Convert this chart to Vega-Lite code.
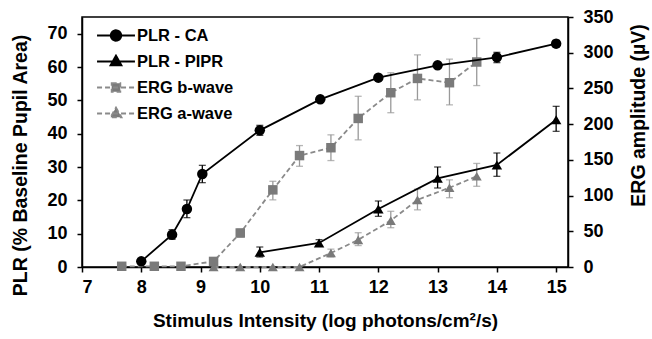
{
  "$schema": "https://vega.github.io/schema/vega-lite/v6.json",
  "width": 486,
  "height": 250,
  "autosize": {"type": "none"},
  "padding": {"left": 82, "top": 17, "right": 84, "bottom": 72},
  "background": "white",
  "config": {
    "view": {"stroke": "#000", "strokeWidth": 1.5},
    "font": "Liberation Sans",
    "axis": {
      "grid": false,
      "labelOverlap": false,
      "labelFont": "Liberation Sans",
      "labelFontWeight": "bold",
      "labelFontSize": 18,
      "labelColor": "#000",
      "titleFont": "Liberation Sans",
      "titleFontWeight": "bold",
      "titleFontSize": 19.5,
      "titleColor": "#000",
      "domainColor": "#000",
      "domainWidth": 1.5,
      "tickColor": "#000",
      "tickWidth": 1.5,
      "tickSize": 5
    },
    "legend": {
      "labelFont": "Liberation Sans",
      "labelFontWeight": "bold",
      "labelFontSize": 16.5,
      "labelColor": "#000",
      "symbolStrokeWidth": 1.8,
      "padding": 0,
      "rowPadding": 0
    }
  },
  "datasets": {
    "pts": [
      {"series": "PLR - CA", "x": 8.0, "y": 1.7},
      {"series": "PLR - CA", "x": 8.52, "y": 9.7, "lo": 8.3, "hi": 11.2},
      {"series": "PLR - CA", "x": 8.77, "y": 17.4, "lo": 14.8, "hi": 20.1},
      {"series": "PLR - CA", "x": 9.03, "y": 27.9, "lo": 25.3, "hi": 30.5},
      {"series": "PLR - CA", "x": 10.0, "y": 41.0, "lo": 39.5, "hi": 42.5},
      {"series": "PLR - CA", "x": 11.02, "y": 50.3, "lo": 49.5, "hi": 51.2},
      {"series": "PLR - CA", "x": 12.0, "y": 56.8, "lo": 56.0, "hi": 57.6},
      {"series": "PLR - CA", "x": 13.0, "y": 60.5, "lo": 59.6, "hi": 61.4},
      {"series": "PLR - CA", "x": 14.0, "y": 62.9, "lo": 61.3, "hi": 64.4},
      {"series": "PLR - CA", "x": 15.0, "y": 67.0, "lo": 66.0, "hi": 68.0},
      {"series": "PLR - PIPR", "x": 10.0, "y": 4.4, "lo": 3.0, "hi": 6.0},
      {"series": "PLR - PIPR", "x": 11.0, "y": 7.2, "lo": 6.3, "hi": 8.2},
      {"series": "PLR - PIPR", "x": 12.0, "y": 17.4, "lo": 15.2, "hi": 19.8},
      {"series": "PLR - PIPR", "x": 13.0, "y": 26.6, "lo": 23.7, "hi": 30.0},
      {"series": "PLR - PIPR", "x": 14.0, "y": 30.6, "lo": 27.2, "hi": 34.2},
      {"series": "PLR - PIPR", "x": 15.0, "y": 44.2, "lo": 40.7, "hi": 48.2},
      {"series": "ERG b-wave", "x": 7.67, "y": 1},
      {"series": "ERG b-wave", "x": 8.22, "y": 1},
      {"series": "ERG b-wave", "x": 8.67, "y": 1},
      {"series": "ERG b-wave", "x": 9.22, "y": 7.8},
      {"series": "ERG b-wave", "x": 9.67, "y": 47.6, "lo": 42, "hi": 53},
      {"series": "ERG b-wave", "x": 10.22, "y": 108, "lo": 94, "hi": 120},
      {"series": "ERG b-wave", "x": 10.67, "y": 156, "lo": 141, "hi": 170},
      {"series": "ERG b-wave", "x": 11.2, "y": 167, "lo": 149, "hi": 185},
      {"series": "ERG b-wave", "x": 11.66, "y": 208, "lo": 178, "hi": 239},
      {"series": "ERG b-wave", "x": 12.21, "y": 244, "lo": 216, "hi": 272},
      {"series": "ERG b-wave", "x": 12.66, "y": 264, "lo": 234, "hi": 297},
      {"series": "ERG b-wave", "x": 13.2, "y": 258, "lo": 227, "hi": 291},
      {"series": "ERG b-wave", "x": 13.66, "y": 287, "lo": 254, "hi": 320},
      {"series": "ERG a-wave", "x": 9.22, "y": 0},
      {"series": "ERG a-wave", "x": 9.67, "y": 0},
      {"series": "ERG a-wave", "x": 10.22, "y": 0},
      {"series": "ERG a-wave", "x": 10.67, "y": 0},
      {"series": "ERG a-wave", "x": 11.2, "y": 19.6, "lo": 14, "hi": 25},
      {"series": "ERG a-wave", "x": 11.66, "y": 38, "lo": 30, "hi": 48},
      {"series": "ERG a-wave", "x": 12.21, "y": 65, "lo": 55, "hi": 78},
      {"series": "ERG a-wave", "x": 12.66, "y": 94, "lo": 80, "hi": 109},
      {"series": "ERG a-wave", "x": 13.2, "y": 111, "lo": 97, "hi": 122},
      {"series": "ERG a-wave", "x": 13.66, "y": 127, "lo": 113, "hi": 145}
    ]
  },
  "data": {"name": "pts"},
  "encoding": {
    "x": {
      "field": "x",
      "type": "quantitative",
      "scale": {"domain": [7, 15.2], "nice": false, "zero": false},
      "axis": {
        "values": [7, 8, 9, 10, 11, 12, 13, 14, 15],
        "format": "d",
        "labelPadding": 6,
        "titlePadding": 15,
        "titleFontSize": 19,
        "title": "Stimulus Intensity (log photons/cm²/s)"
      }
    }
  },
  "layer": [
    {
      "transform": [{"filter": {"field": "series", "oneOf": ["ERG b-wave", "ERG a-wave"]}}],
      "encoding": {
        "y": {"field": "y", "type": "quantitative", "scale": {"domain": [0, 350], "nice": false}, "title": "ERG amplitude (µV)",
          "axis": {"orient": "right", "values": [0, 50, 100, 150, 200, 250, 300, 350], "tickCount": 8, "labelPadding": 10, "titlePadding": 35, "titleAngle": 270, "titleY": 98, "title": "ERG amplitude (µV)"}}
      },
      "layer": [
        {
          "transform": [{"filter": "isValid(datum.hi)"}],
          "mark": {"type": "errorbar", "ticks": {"size": 7}, "color": "#999999", "thickness": 1.3},
          "encoding": {
            "y": {"field": "lo", "type": "quantitative", "scale": {"domain": [0, 350], "nice": false}, "title": "ERG amplitude (µV)",
              "axis": {"orient": "right", "values": [0, 50, 100, 150, 200, 250, 300, 350], "tickCount": 8, "labelPadding": 10, "titlePadding": 35, "titleAngle": 270, "titleY": 98, "title": "ERG amplitude (µV)"}},
            "y2": {"field": "hi"}
          }
        },
        {
          "mark": {"type": "line", "color": "#8a8a8a", "strokeWidth": 1.8, "strokeDash": [5, 3]},
          "encoding": {"detail": {"field": "series"}}
        },
        {
          "transform": [{"filter": "datum.series == 'ERG b-wave'"}],
          "mark": {"type": "point", "shape": "square", "filled": true, "opacity": 1, "color": "#7a7a7a", "size": 90}
        },
        {
          "transform": [{"filter": "datum.series == 'ERG a-wave'"}],
          "mark": {"type": "point", "shape": "triangle-up", "filled": true, "opacity": 1, "color": "#7a7a7a", "size": 100}
        }
      ]
    },
    {
      "transform": [{"filter": {"field": "series", "oneOf": ["PLR - CA", "PLR - PIPR"]}}],
      "encoding": {
        "y": {"field": "y", "type": "quantitative", "scale": {"domain": [0, 75], "nice": false}, "title": "PLR (% Baseline Pupil Area)",
          "axis": {"orient": "left", "values": [0, 10, 20, 30, 40, 50, 60, 70], "tickCount": 8, "labelPadding": 10, "titlePadding": 16, "titleY": 148, "title": "PLR (% Baseline Pupil Area)"}}
      },
      "layer": [
        {
          "transform": [{"filter": "isValid(datum.hi)"}],
          "mark": {"type": "errorbar", "ticks": {"size": 7}, "color": "#000", "thickness": 1.3},
          "encoding": {
            "y": {"field": "lo", "type": "quantitative", "scale": {"domain": [0, 75], "nice": false}, "title": "PLR (% Baseline Pupil Area)",
              "axis": {"orient": "left", "values": [0, 10, 20, 30, 40, 50, 60, 70], "tickCount": 8, "labelPadding": 10, "titlePadding": 16, "titleY": 148, "title": "PLR (% Baseline Pupil Area)"}},
            "y2": {"field": "hi"}
          }
        },
        {
          "mark": {"type": "line", "color": "#000", "strokeWidth": 1.8},
          "encoding": {"detail": {"field": "series"}}
        },
        {
          "transform": [{"filter": "datum.series == 'PLR - CA'"}],
          "mark": {"type": "point", "shape": "circle", "filled": true, "opacity": 1, "color": "#000", "size": 110}
        },
        {
          "transform": [{"filter": "datum.series == 'PLR - PIPR'"}],
          "mark": {"type": "point", "shape": "triangle-up", "filled": true, "opacity": 1, "color": "#000", "size": 110}
        },
        {
          "transform": [{"filter": "datum.series == 'none'"}],
          "mark": {"type": "point", "filled": true, "opacity": 1},
          "encoding": {
            "shape": {
              "field": "series", "type": "nominal",
              "scale": {
                "domain": ["PLR - CA", "PLR - PIPR", "ERG b-wave", "ERG a-wave"],
                "range": [
                  "M0,-0.75L0,-0.75M0,0.75L0,0.75M-1.58,0L1.58,0M-0.44,0A0.44,0.44,0,1,0,0.44,0A0.44,0.44,0,1,0,-0.44,0Z",
                  "M0,-0.75L0,-0.75M0,0.75L0,0.75M-1.58,0L1.58,0M0,-0.5L0.46,0.32L-0.46,0.32Z",
                  "M0,-0.75L0,-0.75M0,0.75L0,0.75M-1.58,0L1.58,0M-0.36,-0.36L0.36,-0.36L0.36,0.36L-0.36,0.36Z",
                  "M0,-0.75L0,-0.75M0,0.75L0,0.75M-1.58,0L1.58,0M0,-0.5L0.46,0.32L-0.46,0.32Z"
                ]
              },
              "legend": {"orient": "none", "legendX": 21, "legendY": 5.5, "title": null, "symbolSize": 576, "labelOffset": 8}
            },
            "fill": {
              "field": "series", "type": "nominal",
              "scale": {"domain": ["PLR - CA", "PLR - PIPR", "ERG b-wave", "ERG a-wave"], "range": ["#000", "#000", "#7a7a7a", "#7a7a7a"]},
              "legend": {"orient": "none", "legendX": 21, "legendY": 5.5, "title": null, "symbolSize": 576, "labelOffset": 8}
            },
            "stroke": {
              "field": "series", "type": "nominal",
              "scale": {"domain": ["PLR - CA", "PLR - PIPR", "ERG b-wave", "ERG a-wave"], "range": ["#000", "#000", "#8a8a8a", "#8a8a8a"]},
              "legend": {"orient": "none", "legendX": 21, "legendY": 5.5, "title": null, "symbolSize": 576, "labelOffset": 8}
            },
            "strokeDash": {
              "field": "series", "type": "nominal",
              "scale": {"domain": ["PLR - CA", "PLR - PIPR", "ERG b-wave", "ERG a-wave"], "range": [[1, 0], [1, 0], [5, 3], [5, 3]]},
              "legend": {"orient": "none", "legendX": 21, "legendY": 5.5, "title": null, "symbolSize": 576, "labelOffset": 8}
            }
          }
        }
      ]
    }
  ],
  "resolve": {"scale": {"y": "independent"}}
}
